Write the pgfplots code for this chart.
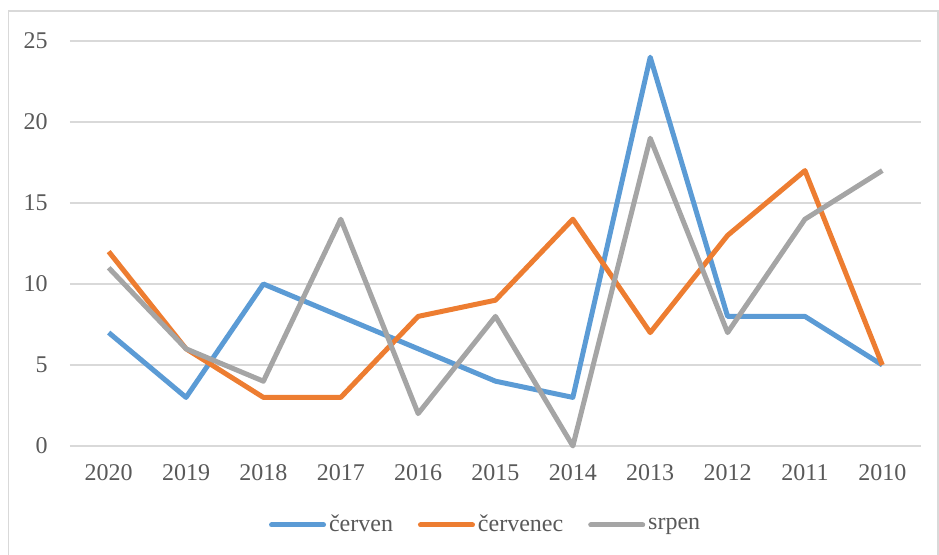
\documentclass[border=0pt]{standalone}
\usepackage{fontspec}
\setmainfont{Liberation Serif}
\usepackage{pgfplots}
\pgfplotsset{compat=1.18}
\definecolor{cBlue}{HTML}{5B9BD5}
\definecolor{cOrange}{HTML}{ED7D31}
\definecolor{cGray}{HTML}{A5A5A5}
\definecolor{txt}{HTML}{595959}
\definecolor{grid}{HTML}{D9D9D9}
\begin{document}
\begin{tikzpicture}
\useasboundingbox (0,0) rectangle (469.5pt,-277.5pt);
\draw[color=grid, line width=0.75pt] (4.2pt,-5.5pt) rectangle (469.1pt,-290pt);
\begin{axis}[
  at={(35pt,-223pt)}, anchor=south west,
  scale only axis, width=425.5pt, height=202.5pt,
  xmin=-0.5, xmax=10.5, ymin=0, ymax=25,
  clip=false,
  xtick={0,...,10},
  xticklabels={2020,2019,2018,2017,2016,2015,2014,2013,2012,2011,2010},
  ytick={0,5,...,25},
  ymajorgrids, major grid style={color=grid, line width=0.75pt},
  axis line style={draw=none},
  major tick length=0pt,
  tick label style={font=\rmfamily\fontsize{12}{14}\selectfont, text=txt, inner sep=0pt},
  /pgf/number format/assume math mode=true,
  yticklabel style={anchor=east, xshift=-11pt},
  xticklabel style={anchor=north, yshift=-9pt},
  legend style={at={(0.489,-0.195)}, anchor=center, draw=none, fill=none,
    legend columns=-1, font=\rmfamily\fontsize{12}{14}\selectfont, text=txt,
    /tikz/every even column/.append style={column sep=11pt},
    nodes={inner sep=1.5pt}},
  legend image code/.code={\draw[#1, line cap=round] (0pt,0pt) -- (26pt,0pt);},
  every axis plot/.append style={line width=2.5pt, line join=round, no markers},
]
\addplot[cBlue] coordinates {(0,7) (1,3) (2,10) (3,8) (4,6) (5,4) (6,3) (7,24) (8,8) (9,8) (10,5)};
\addlegendentry{červen}
\addplot[cOrange] coordinates {(0,12) (1,6) (2,3) (3,3) (4,8) (5,9) (6,14) (7,7) (8,13) (9,17) (10,5)};
\addlegendentry{červenec}
\addplot[cGray] coordinates {(0,11) (1,6) (2,4) (3,14) (4,2) (5,8) (6,0) (7,19) (8,7) (9,14) (10,17)};
\addlegendentry{srpen}
\end{axis}
\end{tikzpicture}
\end{document}
